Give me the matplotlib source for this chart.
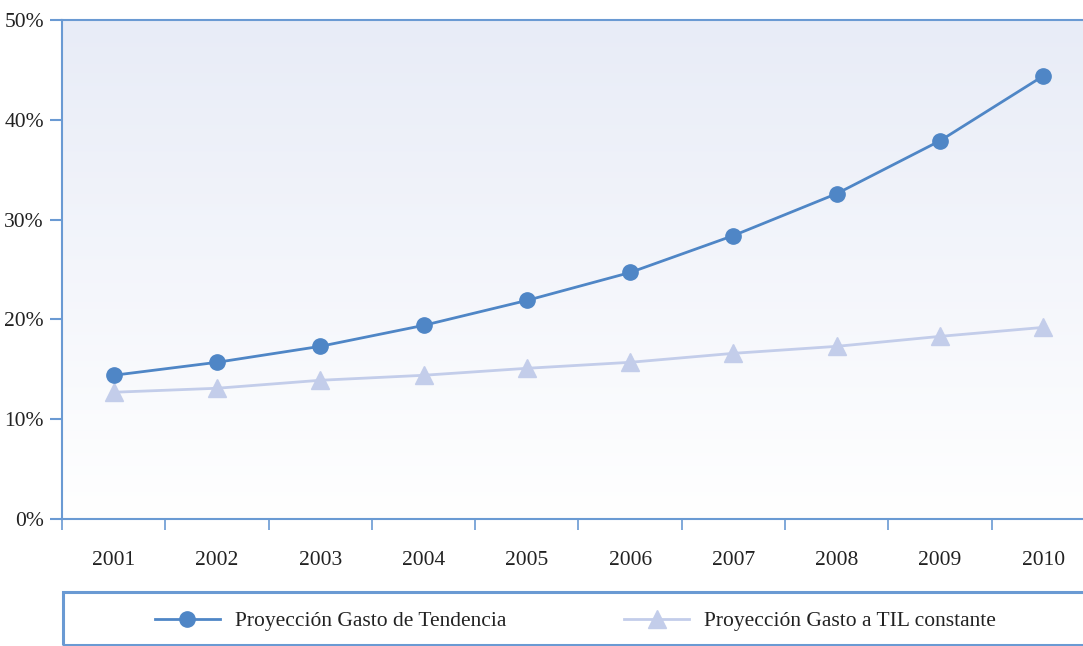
import numpy as np
import matplotlib
matplotlib.use("Agg")
import matplotlib.pyplot as plt
from matplotlib.patches import Rectangle

years = ['2001', '2002', '2003', '2004', '2005', '2006', '2007', '2008', '2009', '2010']
gasto_tendencia = [14.4, 15.7, 17.3, 19.4, 21.9, 24.7, 28.4, 32.6, 37.9, 44.4]
gasto_til = [12.7, 13.1, 13.9, 14.4, 15.1, 15.7, 16.6, 17.3, 18.3, 19.2]
y_ticks = [0, 10, 20, 30, 40, 50]

dark_blue = '#4F86C6'
light_blue = '#C3CDEA'
spine_col = '#6A9AD3'
fs = 15.5

plt.rcParams['font.family'] = ['Liberation Serif', 'DejaVu Serif']
plt.rcParams['font.size'] = fs

fig = plt.figure(figsize=(10.83, 6.46), dpi=100)
W, H = 1083.0, 646.0
ax = fig.add_axes([62 / W, 127 / H, 1033 / W, 499 / H])

x = np.arange(len(years))

# fondo degradado
grad = np.linspace(0, 1, 256).reshape(-1, 1)
ax.imshow(grad, extent=[-0.5, 9.5, 0, 50], aspect='auto', origin='lower',
          cmap=matplotlib.colors.LinearSegmentedColormap.from_list('g', ['#FFFFFF', '#E8ECF7']),
          zorder=0)

l1, = ax.plot(x, gasto_tendencia, color=dark_blue, lw=2, marker='o', ms=11,
              label='Proyección Gasto de Tendencia', zorder=3)
l2, = ax.plot(x, gasto_til, color=light_blue, lw=2, marker='^', ms=13,
              label='Proyección Gasto a TIL constante', zorder=2)

ax.set_xlim(-0.5, 9.5)
ax.set_ylim(0, 50)

ax.set_yticks(y_ticks)
ax.set_yticklabels([str(v) + '%' for v in y_ticks])
ax.tick_params(axis='y', length=9, width=1.5, color=spine_col, pad=4, labelcolor='#222222')

ax.set_xticks(np.arange(-0.5, 10, 1))
ax.set_xticklabels([])
ax.set_xticks(x, minor=True)
ax.set_xticklabels(years, minor=True)
ax.tick_params(axis='x', which='major', length=8, width=1.2, color=spine_col)
ax.tick_params(axis='x', which='minor', length=0, pad=23, labelcolor='#222222')

for s in ['left', 'bottom', 'top']:
    ax.spines[s].set_color(spine_col)
    ax.spines[s].set_linewidth(1.5)
ax.spines['right'].set_visible(False)

# caja de la leyenda
fig.patches.append(Rectangle((63 / W, 1 / H), 1.1, 53 / H, transform=fig.transFigure,
                             fill=False, edgecolor=spine_col, lw=2.2))

fig.legend(handles=[l1, l2], loc='center left', bbox_to_anchor=(155 / W, 25 / H),
           ncol=2, frameon=False, handlelength=3.0, handletextpad=0.7,
           columnspacing=5.5, borderpad=0, borderaxespad=0, fontsize=fs,
           labelcolor='#222222')

fig.savefig('out.png', dpi=100)
